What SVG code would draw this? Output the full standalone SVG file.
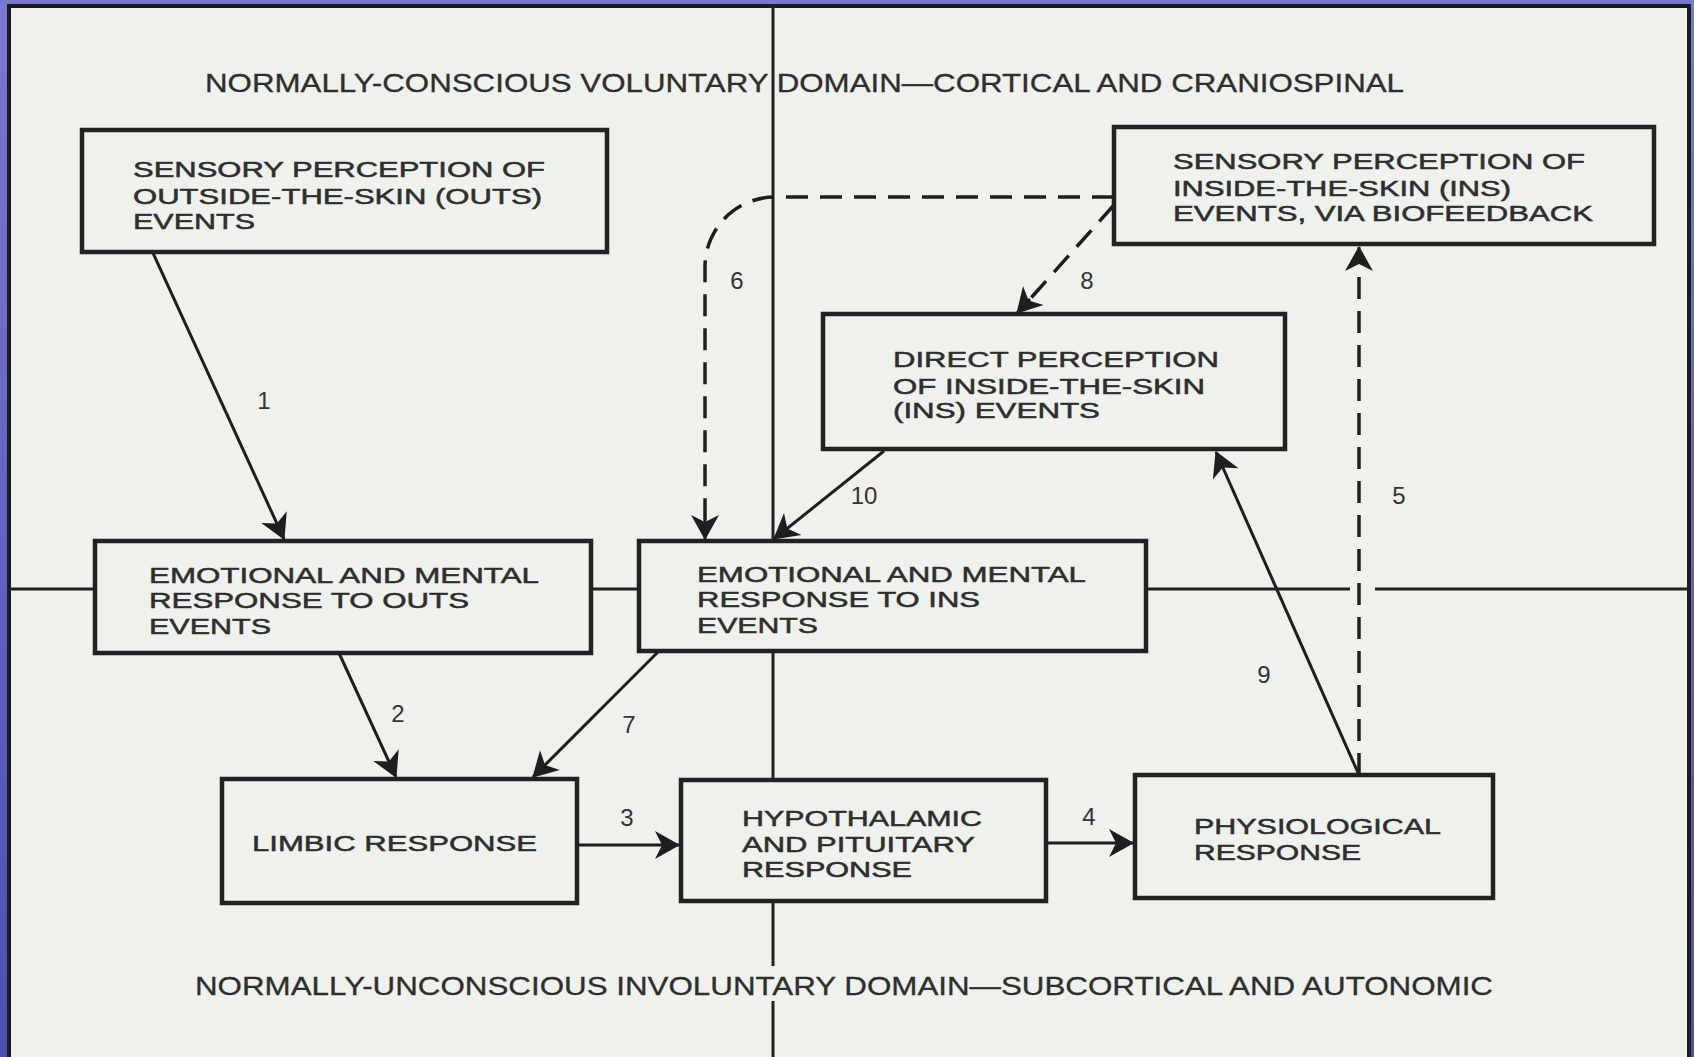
<svg xmlns="http://www.w3.org/2000/svg" width="1694" height="1057" viewBox="0 0 1694 1057">
<defs>
<linearGradient id="bg" x1="0" y1="0" x2="0" y2="1">
<stop offset="0" stop-color="#7b78cf"/>
<stop offset="1" stop-color="#4a4fb6"/>
</linearGradient>
<marker id="ah" viewBox="-26 -16 28 32" refX="0" refY="0" markerWidth="28" markerHeight="32" markerUnits="userSpaceOnUse" orient="auto">
<path d="M1,0 L-24,-14 L-17,0 L-24,14 Z" fill="#1e1e1e"/>
</marker>
</defs>
<style>
.box{fill:none;stroke:#222;stroke-width:4.5}
.t{font-family:"Liberation Sans",Arial,Helvetica,sans-serif;font-size:22px;fill:#2e2e2e;stroke:#2e2e2e;stroke-width:0.5}
.tt{font-family:"Liberation Sans",Arial,Helvetica,sans-serif;font-size:26px;fill:#2e2e2e;stroke:#2e2e2e;stroke-width:0.3}
.lbl{font-family:"Liberation Sans",Arial,Helvetica,sans-serif;font-size:24px;fill:#333;text-anchor:middle}
.div{stroke:#222;stroke-width:3;fill:none}
.c{stroke:#1e1e1e;stroke-width:3;fill:none;marker-end:url(#ah)}
.d{stroke:#1e1e1e;stroke-width:3.5;fill:none;stroke-dasharray:22 12}
</style>
<rect x="0" y="0" width="1694" height="1057" fill="url(#bg)"/>
<rect x="9" y="6" width="1680" height="1056" fill="#eef1ec" stroke="#1c1c1c" stroke-width="4"/>

<g id="dividers">
<path class="div" d="M773,6 V541 M773,651 V780 M773,901 V966 M773,1001 V1057"/>
<path class="div" d="M9,589 H95 M591,589 H639 M1146,589 H1350 M1375,589 H1689"/>
</g>

<g id="titles">
<text class="tt" x="205" y="92" textLength="1199" lengthAdjust="spacingAndGlyphs">NORMALLY-CONSCIOUS VOLUNTARY DOMAIN—CORTICAL AND CRANIOSPINAL</text>
<text class="tt" x="195" y="995" textLength="1298" lengthAdjust="spacingAndGlyphs">NORMALLY-UNCONSCIOUS INVOLUNTARY DOMAIN—SUBCORTICAL AND AUTONOMIC</text>
</g>

<g id="node-outs-perception">
<rect class="box" x="82" y="130" width="525" height="122"/>
<text class="t" x="133" y="177" textLength="412" lengthAdjust="spacingAndGlyphs">SENSORY PERCEPTION OF</text>
<text class="t" x="133" y="204" textLength="409" lengthAdjust="spacingAndGlyphs">OUTSIDE-THE-SKIN (OUTS)</text>
<text class="t" x="133" y="229" textLength="122" lengthAdjust="spacingAndGlyphs">EVENTS</text>
</g>

<g id="node-ins-biofeedback">
<rect class="box" x="1114" y="127" width="540" height="117"/>
<text class="t" x="1173" y="169" textLength="412" lengthAdjust="spacingAndGlyphs">SENSORY PERCEPTION OF</text>
<text class="t" x="1173" y="196" textLength="338" lengthAdjust="spacingAndGlyphs">INSIDE-THE-SKIN (INS)</text>
<text class="t" x="1173" y="221" textLength="420" lengthAdjust="spacingAndGlyphs">EVENTS, VIA BIOFEEDBACK</text>
</g>

<g id="node-direct-perception">
<rect class="box" x="823" y="314" width="462" height="135"/>
<text class="t" x="893" y="367" textLength="326" lengthAdjust="spacingAndGlyphs">DIRECT PERCEPTION</text>
<text class="t" x="893" y="394" textLength="312" lengthAdjust="spacingAndGlyphs">OF INSIDE-THE-SKIN</text>
<text class="t" x="893" y="418" textLength="207" lengthAdjust="spacingAndGlyphs">(INS) EVENTS</text>
</g>

<g id="node-emotional-outs">
<rect class="box" x="95" y="541" width="496" height="112"/>
<text class="t" x="149" y="583" textLength="390" lengthAdjust="spacingAndGlyphs">EMOTIONAL AND MENTAL</text>
<text class="t" x="149" y="608" textLength="320" lengthAdjust="spacingAndGlyphs">RESPONSE TO OUTS</text>
<text class="t" x="149" y="634" textLength="122" lengthAdjust="spacingAndGlyphs">EVENTS</text>
</g>

<g id="node-emotional-ins">
<rect class="box" x="639" y="541" width="507" height="110"/>
<text class="t" x="697" y="582" textLength="389" lengthAdjust="spacingAndGlyphs">EMOTIONAL AND MENTAL</text>
<text class="t" x="697" y="607" textLength="283" lengthAdjust="spacingAndGlyphs">RESPONSE TO INS</text>
<text class="t" x="697" y="633" textLength="121" lengthAdjust="spacingAndGlyphs">EVENTS</text>
</g>

<g id="node-limbic">
<rect class="box" x="222" y="779" width="355" height="124"/>
<text class="t" x="252" y="851" textLength="285" lengthAdjust="spacingAndGlyphs">LIMBIC RESPONSE</text>
</g>

<g id="node-hypothalamic">
<rect class="box" x="681" y="780" width="365" height="121"/>
<text class="t" x="742" y="826" textLength="240" lengthAdjust="spacingAndGlyphs">HYPOTHALAMIC</text>
<text class="t" x="742" y="852" textLength="233" lengthAdjust="spacingAndGlyphs">AND PITUITARY</text>
<text class="t" x="742" y="877" textLength="170" lengthAdjust="spacingAndGlyphs">RESPONSE</text>
</g>

<g id="node-physiological">
<rect class="box" x="1135" y="775" width="358" height="123"/>
<text class="t" x="1194" y="834" textLength="247" lengthAdjust="spacingAndGlyphs">PHYSIOLOGICAL</text>
<text class="t" x="1194" y="860" textLength="167" lengthAdjust="spacingAndGlyphs">RESPONSE</text>
</g>

<g id="connectors">
<path class="c" d="M153,253 L284,539"/>
<path class="c" d="M339,653 L396,777"/>
<path class="c" d="M658,652 L533,777"/>
<path class="c" d="M577,845 L679,845"/>
<path class="c" d="M1046,843 L1133,843"/>
<path class="c" d="M1359,775 L1216,452"/>
<path class="c" d="M884,451 L774,539"/>
<path class="d" d="M1359,775 V272"/>
<path class="c" d="M1359,262 L1359,247" style="stroke-dasharray:none"/>
<path class="d" d="M1114,197 H775 A70,70 0 0 0 705,267 V520"/>
<path class="c" d="M705,520 L705,539"/>
<path class="d" d="M1114,205 L1030,299"/>
<path class="c" d="M1030,299 L1017,313"/>
</g>

<g id="labels">
<text class="lbl" x="264" y="409">1</text>
<text class="lbl" x="398" y="722">2</text>
<text class="lbl" x="627" y="826">3</text>
<text class="lbl" x="1089" y="825">4</text>
<text class="lbl" x="1399" y="504">5</text>
<text class="lbl" x="737" y="289">6</text>
<text class="lbl" x="629" y="733">7</text>
<text class="lbl" x="1087" y="289">8</text>
<text class="lbl" x="1264" y="683">9</text>
<text class="lbl" x="864" y="504">10</text>
</g>
</svg>
